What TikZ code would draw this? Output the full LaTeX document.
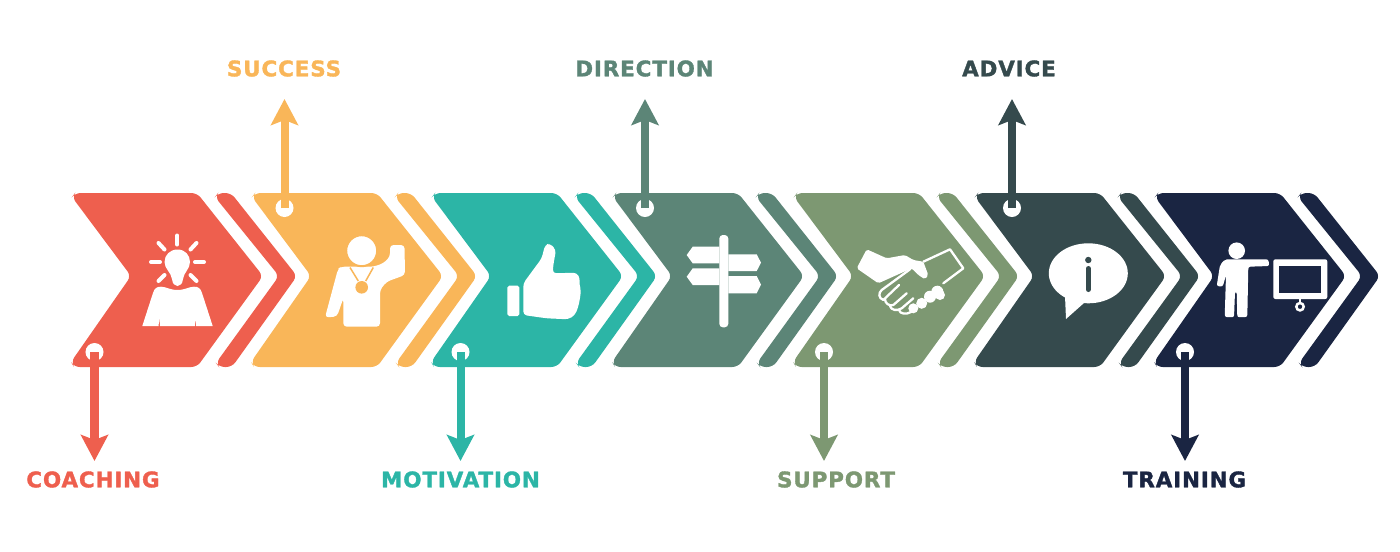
\documentclass[tikz,border=0pt]{standalone}
\usepackage{fontspec}
\usetikzlibrary{arrows.meta}
\newfontfamily\labelfont{DejaVu Sans}[LetterSpace=4, BoldFeatures={FakeBold=1.6}]
\definecolor{coachcol}{HTML}{EE5F4E}
\definecolor{succcol}{HTML}{F9B659}
\definecolor{motivcol}{HTML}{2CB5A6}
\definecolor{dircol}{HTML}{5C8577}
\definecolor{suppcol}{HTML}{7D9872}
\definecolor{advcol}{HTML}{354A4D}
\definecolor{traincol}{HTML}{1A2542}
\tikzset{
  chevron/.style={rounded corners=1.6pt},
  hole/.style={circle, fill=white, inner sep=0, minimum size=0.18cm},
  arrowline/.style={line width=0.08cm, -{Stealth[length=0.26cm, width=0.27cm, inset=0.05cm]}},
  tag/.style={inner sep=0, font=\labelfont\bfseries\fontsize{6.1}{7}\selectfont},
  ray/.style={white, line width=0.04cm, line cap=round},
  shake/.style={white, line width=0.023cm, line cap=round, line join=round}
}

\begin{document}
\begin{tikzpicture}[x=0.01cm, y=-0.01cm]
  \useasboundingbox (0,0) rectangle (1400,551);

  \fill[coachcol, chevron] (75,193) -- (197,193) -- (263,276) -- (197,367) -- (74,367) -- (71,362) -- (131,276) -- (72,197) -- cycle;
  \fill[coachcol, chevron] (218,193) -- (231,193) -- (297,276) -- (232,367) -- (219,367) -- (216,363) -- (279,276) -- (215,197) -- cycle;
  \fill[succcol, chevron] (255,193) -- (377,193) -- (443,276) -- (377,367) -- (254,367) -- (251,362) -- (311,276) -- (252,197) -- cycle;
  \fill[succcol, chevron] (398,193) -- (411,193) -- (477,276) -- (412,367) -- (399,367) -- (396,363) -- (459,276) -- (395,197) -- cycle;
  \fill[motivcol, chevron] (435,193) -- (557,193) -- (623,276) -- (557,367) -- (434,367) -- (431,362) -- (491,276) -- (432,197) -- cycle;
  \fill[motivcol, chevron] (578,193) -- (591,193) -- (657,276) -- (592,367) -- (579,367) -- (576,363) -- (639,276) -- (575,197) -- cycle;
  \fill[dircol, chevron] (616,193) -- (738,193) -- (804,276) -- (738,367) -- (615,367) -- (612,362) -- (672,276) -- (613,197) -- cycle;
  \fill[dircol, chevron] (759,193) -- (772,193) -- (838,276) -- (773,367) -- (760,367) -- (757,363) -- (820,276) -- (756,197) -- cycle;
  \fill[suppcol, chevron] (797,193) -- (919,193) -- (985,276) -- (919,367) -- (796,367) -- (793,362) -- (853,276) -- (794,197) -- cycle;
  \fill[suppcol, chevron] (940,193) -- (953,193) -- (1019,276) -- (954,367) -- (941,367) -- (938,363) -- (1001,276) -- (937,197) -- cycle;
  \fill[advcol, chevron] (978,193) -- (1100,193) -- (1166,276) -- (1100,367) -- (977,367) -- (974,362) -- (1034,276) -- (975,197) -- cycle;
  \fill[advcol, chevron] (1121,193) -- (1134,193) -- (1200,276) -- (1135,367) -- (1122,367) -- (1119,363) -- (1182,276) -- (1118,197) -- cycle;
  \fill[traincol, chevron] (1158,193) -- (1280,193) -- (1346,276) -- (1280,367) -- (1157,367) -- (1154,362) -- (1214,276) -- (1155,197) -- cycle;
  \fill[traincol, chevron] (1301,193) -- (1314,193) -- (1380,276) -- (1315,367) -- (1302,367) -- (1299,363) -- (1362,276) -- (1298,197) -- cycle;

  % holes, tips and labels
  \node[hole] (coachhole) at (94.5,352) {};
  \node[hole] (succhole) at (284.5,208) {};
  \node[hole] (motivhole) at (460.5,352) {};
  \node[hole] (dirhole) at (645,208) {};
  \node[hole] (supphole) at (824,352) {};
  \node[hole] (advhole) at (1012,208) {};
  \node[hole] (trainhole) at (1185,352) {};
  \coordinate (coachtip) at (94.5,461);
  \coordinate (succtip) at (284.5,99);
  \coordinate (motivtip) at (460.5,461);
  \coordinate (dirtip) at (645,99);
  \coordinate (supptip) at (824,461);
  \coordinate (advtip) at (1012,99);
  \coordinate (traintip) at (1185,461);
  \draw[arrowline, coachcol] (coachhole.center) -- (coachtip);
  \draw[arrowline, succcol] (succhole.center) -- (succtip);
  \draw[arrowline, motivcol] (motivhole.center) -- (motivtip);
  \draw[arrowline, dircol] (dirhole.center) -- (dirtip);
  \draw[arrowline, suppcol] (supphole.center) -- (supptip);
  \draw[arrowline, advcol] (advhole.center) -- (advtip);
  \draw[arrowline, traincol] (trainhole.center) -- (traintip);
  \node[tag, text=coachcol] (coachtag) at (93,479.5) {COACHING};
  \node[tag, text=succcol] (succtag) at (284,68.5) {SUCCESS};
  \node[tag, text=motivcol] (motivtag) at (460.5,479.5) {MOTIVATION};
  \node[tag, text=dircol] (dirtag) at (644.5,68.5) {DIRECTION};
  \node[tag, text=suppcol] (supptag) at (836,479.5) {SUPPORT};
  \node[tag, text=advcol] (advtag) at (1009,68.5) {ADVICE};
  \node[tag, text=traincol] (traintag) at (1184.5,479.5) {TRAINING};

  % bulb and person
  \draw[ray] (177.3,235.5) -- (177.3,244.5);
  \draw[ray] (158.5,243) -- (164.5,249.5);
  \draw[ray] (196.5,243) -- (190.5,249.5);
  \draw[ray] (151,262) -- (160,262);
  \draw[ray] (195,262) -- (204,262);
  \draw[ray] (158.5,281) -- (164.5,275);
  \draw[ray] (196.5,281) -- (190.5,275);
  \fill[white] (177.5,249.5) .. controls (185,249.5) and (190,255) .. (190,262) .. controls (190,269) and (184,272) .. (183,279)
  .. controls (182.5,284) and (180,286) .. (177.5,286) .. controls (175,286) and (172.5,284) .. (172,279)
  .. controls (171,272) and (164.5,269) .. (164.5,262) .. controls (164.5,255) and (170,249.5) .. (177.5,249.5) -- cycle;
  \fill[white] (142.3,326) -- (153,293) .. controls (154.5,288) and (157,286.7) .. (161,286.7)
  .. controls (166,286.7) and (170,290) .. (177.5,290) .. controls (185,290) and (189,286.7) .. (194,286.7)
  .. controls (198,286.7) and (200.5,288) .. (202,293) -- (212.7,326) -- (196,326) -- (195.2,318) -- (194.8,326)
  -- (160,326) -- (159.4,318) -- (158.5,326) -- cycle;

  % medal winner
  \fill[white, rounded corners=1pt] (341,266.7) -- (373.3,266.7) -- (383.3,263.3) -- (390,256.7) -- (390,245) -- (404.5,245) -- (405,275)
  -- (386.7,281.7) -- (380,290) -- (380,326.7) -- (343.3,326.7) -- (343.3,298.3) -- (337,316.5) -- (325,317.5) -- (338,269) -- cycle;
  \fill[white, draw=succcol, line width=0.02cm] (361.7,250.7) circle [radius=15.5];
  \draw[succcol, line width=0.015cm] (350,267.5) -- (358.3,281);
  \draw[succcol, line width=0.015cm] (373.3,267.5) -- (365.7,281);
  \fill[succcol] (361.7,287.3) circle [radius=6.3];

  % thumb
  \fill[white, rounded corners=0.5pt] (507.3,285.7) rectangle (519.3,316);
  \fill[white, rounded corners=1pt] (523.3,283.3) -- (541.7,258.3) -- (545,245) -- (550,243.3) -- (556,250) -- (553.3,265) -- (552.7,273.3)
  -- (576.7,272.7) -- (580,278.3) -- (579.3,285) -- (581,290) -- (580,298.3) -- (578.3,306.7) -- (575,315) -- (568.3,319.3)
  -- (546.7,318.3) -- (523.3,315) -- cycle;

  % signpost
  \fill[white, rounded corners=1pt] (719.3,327.3) -- (719.3,235) -- (728.3,235) -- (728.3,327.3) -- cycle;
  \fill[white] (719.3,246.7) -- (692.7,246.7) -- (686.7,255) -- (692.7,263.3) -- (719.3,263.3) -- cycle;
  \fill[white] (728.3,254.3) -- (756.7,254.3) -- (761,262.7) -- (756.7,271) -- (728.3,271) -- cycle;
  \fill[white] (719.3,268.3) -- (692.7,268.3) -- (686.7,276.7) -- (692.7,285) -- (719.3,285) -- cycle;
  \fill[white] (728.3,276) -- (756.7,276) -- (761,284.7) -- (756.7,293.3) -- (728.3,293.3) -- cycle;

  % handshake
  \fill[white, rounded corners=0.5pt] (866.7,249.3) -- (856.7,268.3) -- (878.3,283.3) -- (911.7,268.3) -- (918.3,275) -- (925,279.3) -- (928.3,275)
  -- (923.3,261.7) -- (913.3,260) -- (905,255) -- (886.7,258.3) -- cycle;
  \draw[shake] (923.3,261.7) -- (950,249.3) -- (963.3,268.3) -- (943.3,283.3);
  \draw[shake] (910,269.3) -- (881.7,290) .. controls (878.3,293) and (878.3,298) .. (883.3,300) -- (899,285);
  \draw[shake] (885,299.3) .. controls (885,303) and (889,306.5) .. (893.3,305) -- (906.7,293.3);
  \draw[shake] (890,306) .. controls (891,310) and (896.7,311.5) .. (901.7,308.3) -- (913.3,298.3);
  \draw[shake] (899,310) .. controls (900,314) and (906,315) .. (911.7,311.7) -- (916.7,306.7);
  \fill[white] (913.3,308.3) circle [radius=5];
  \fill[white] (921.7,303.3) circle [radius=5.5];
  \fill[white] (930,296.7) circle [radius=6];
  \fill[white] (937.3,291.7) circle [radius=6];
  \fill[white] (940,295) circle [radius=5];

  % speech bubble
  \fill[white] (1088.3,273.3) ellipse [x radius=39.5, y radius=30];
  \fill[white] (1065,296) -- (1066,319) -- (1084,303) -- cycle;
  \fill[advcol] (1088.3,260) circle [radius=3.2];
  \draw[advcol, line width=0.05cm, line cap=round] (1088.3,268.5) -- (1088.3,289.5);

  % trainer and screen
  \fill[white] (1236.7,250.7) circle [radius=8.3];
  \fill[white, rounded corners=0.6pt] (1225,259.3) -- (1268.3,259.3) -- (1269.3,266) -- (1248.3,266.7) -- (1247.3,317) -- (1237.3,317.3) -- (1236.7,291.7)
  -- (1235,291.7) -- (1234,317.3) -- (1224.7,317) -- (1226,275) -- (1222.7,286.7) -- (1216.7,286) -- (1220,265) -- cycle;
  \fill[white, rounded corners=0.6pt] (1273.3,259.3) rectangle (1327.3,299);
  \fill[traincol] (1279.3,266) rectangle (1321,292.7);
  \draw[white, line width=0.02cm] (1300,299) -- (1300,303);
  \draw[white, line width=0.025cm] (1300,306.7) circle [radius=3.7];
\end{tikzpicture}
\end{document}
